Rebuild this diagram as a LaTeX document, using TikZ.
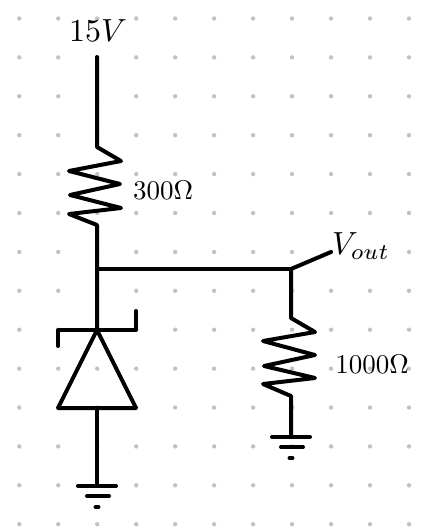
\documentclass[tikz,border=0pt]{standalone}
\tikzset{
  wire/.style={line width=4pt,line cap=round,line join=round,black},
  griddot/.style={fill=black!24,draw=none},
  lab/.style={inner sep=0pt,scale=3.2},
  labsmall/.style={inner sep=0pt,scale=2.7}
}
\begin{document}
\begin{tikzpicture}[x=1pt,y=-1pt]
\useasboundingbox (0,0) rectangle (431,531);
\foreach \i in {0,...,10}{\foreach \j in {0,...,13}{
  \fill[griddot] ({19.3+38.97*\i},{18.5+38.9*\j}) circle (2.2pt);}}
% named points
\coordinate (top) at (97,57);
\coordinate (r1a) at (97,147);
\coordinate (r1b) at (97,225);
\coordinate (j1) at (97,269);
\coordinate (k) at (97,330);
\coordinate (kl) at (58,330);
\coordinate (kld) at (58,346);
\coordinate (kr) at (136,330);
\coordinate (kru) at (136,311);
\coordinate (al) at (58,408);
\coordinate (ar) at (136,408);
\coordinate (a) at (97,408);
\coordinate (g1) at (97,486);
\coordinate (j2) at (291,269);
\coordinate (out) at (331,252);
\coordinate (r2a) at (291,318);
\coordinate (r2b) at (291,396);
\coordinate (g2) at (291,437);
% left branch
\draw[wire] (top) -- (r1a) -- (121,161) -- (69,171) -- (120,184) -- (70,195) -- (121,208) -- (69,214) -- (r1b) -- (j1) -- (k);
\draw[wire] (kld) -- (kl) -- (kr) -- (kru);
\draw[wire] (k) -- (al) -- (ar) -- cycle;
\draw[wire] (a) -- (g1);
\draw[wire] (78,486) -- (116,486);
\draw[wire] (87,496) -- (109,496);
\draw[wire] (95.5,507) -- (98.5,507);
% right branch
\draw[wire] (j1) -- (j2);
\draw[wire] (j2) -- (out);
\draw[wire] (j2) -- (r2a) -- (315,332) -- (263,341) -- (315,355) -- (264,366) -- (315,378) -- (263,384) -- (r2b) -- (g2);
\draw[wire] (272,437) -- (310,437);
\draw[wire] (281,447) -- (303,447);
\draw[wire] (289.5,458) -- (292.5,458);
% labels
\node[lab] (l15) at (98,31) {$15V$};
\node[labsmall] (l300) at (163,190) {$300\Omega$};
\node[lab] (lout) at (361,246) {$V_{out}$};
\node[labsmall] (l1000) at (372,364) {$1000\Omega$};
\end{tikzpicture}
\end{document}
